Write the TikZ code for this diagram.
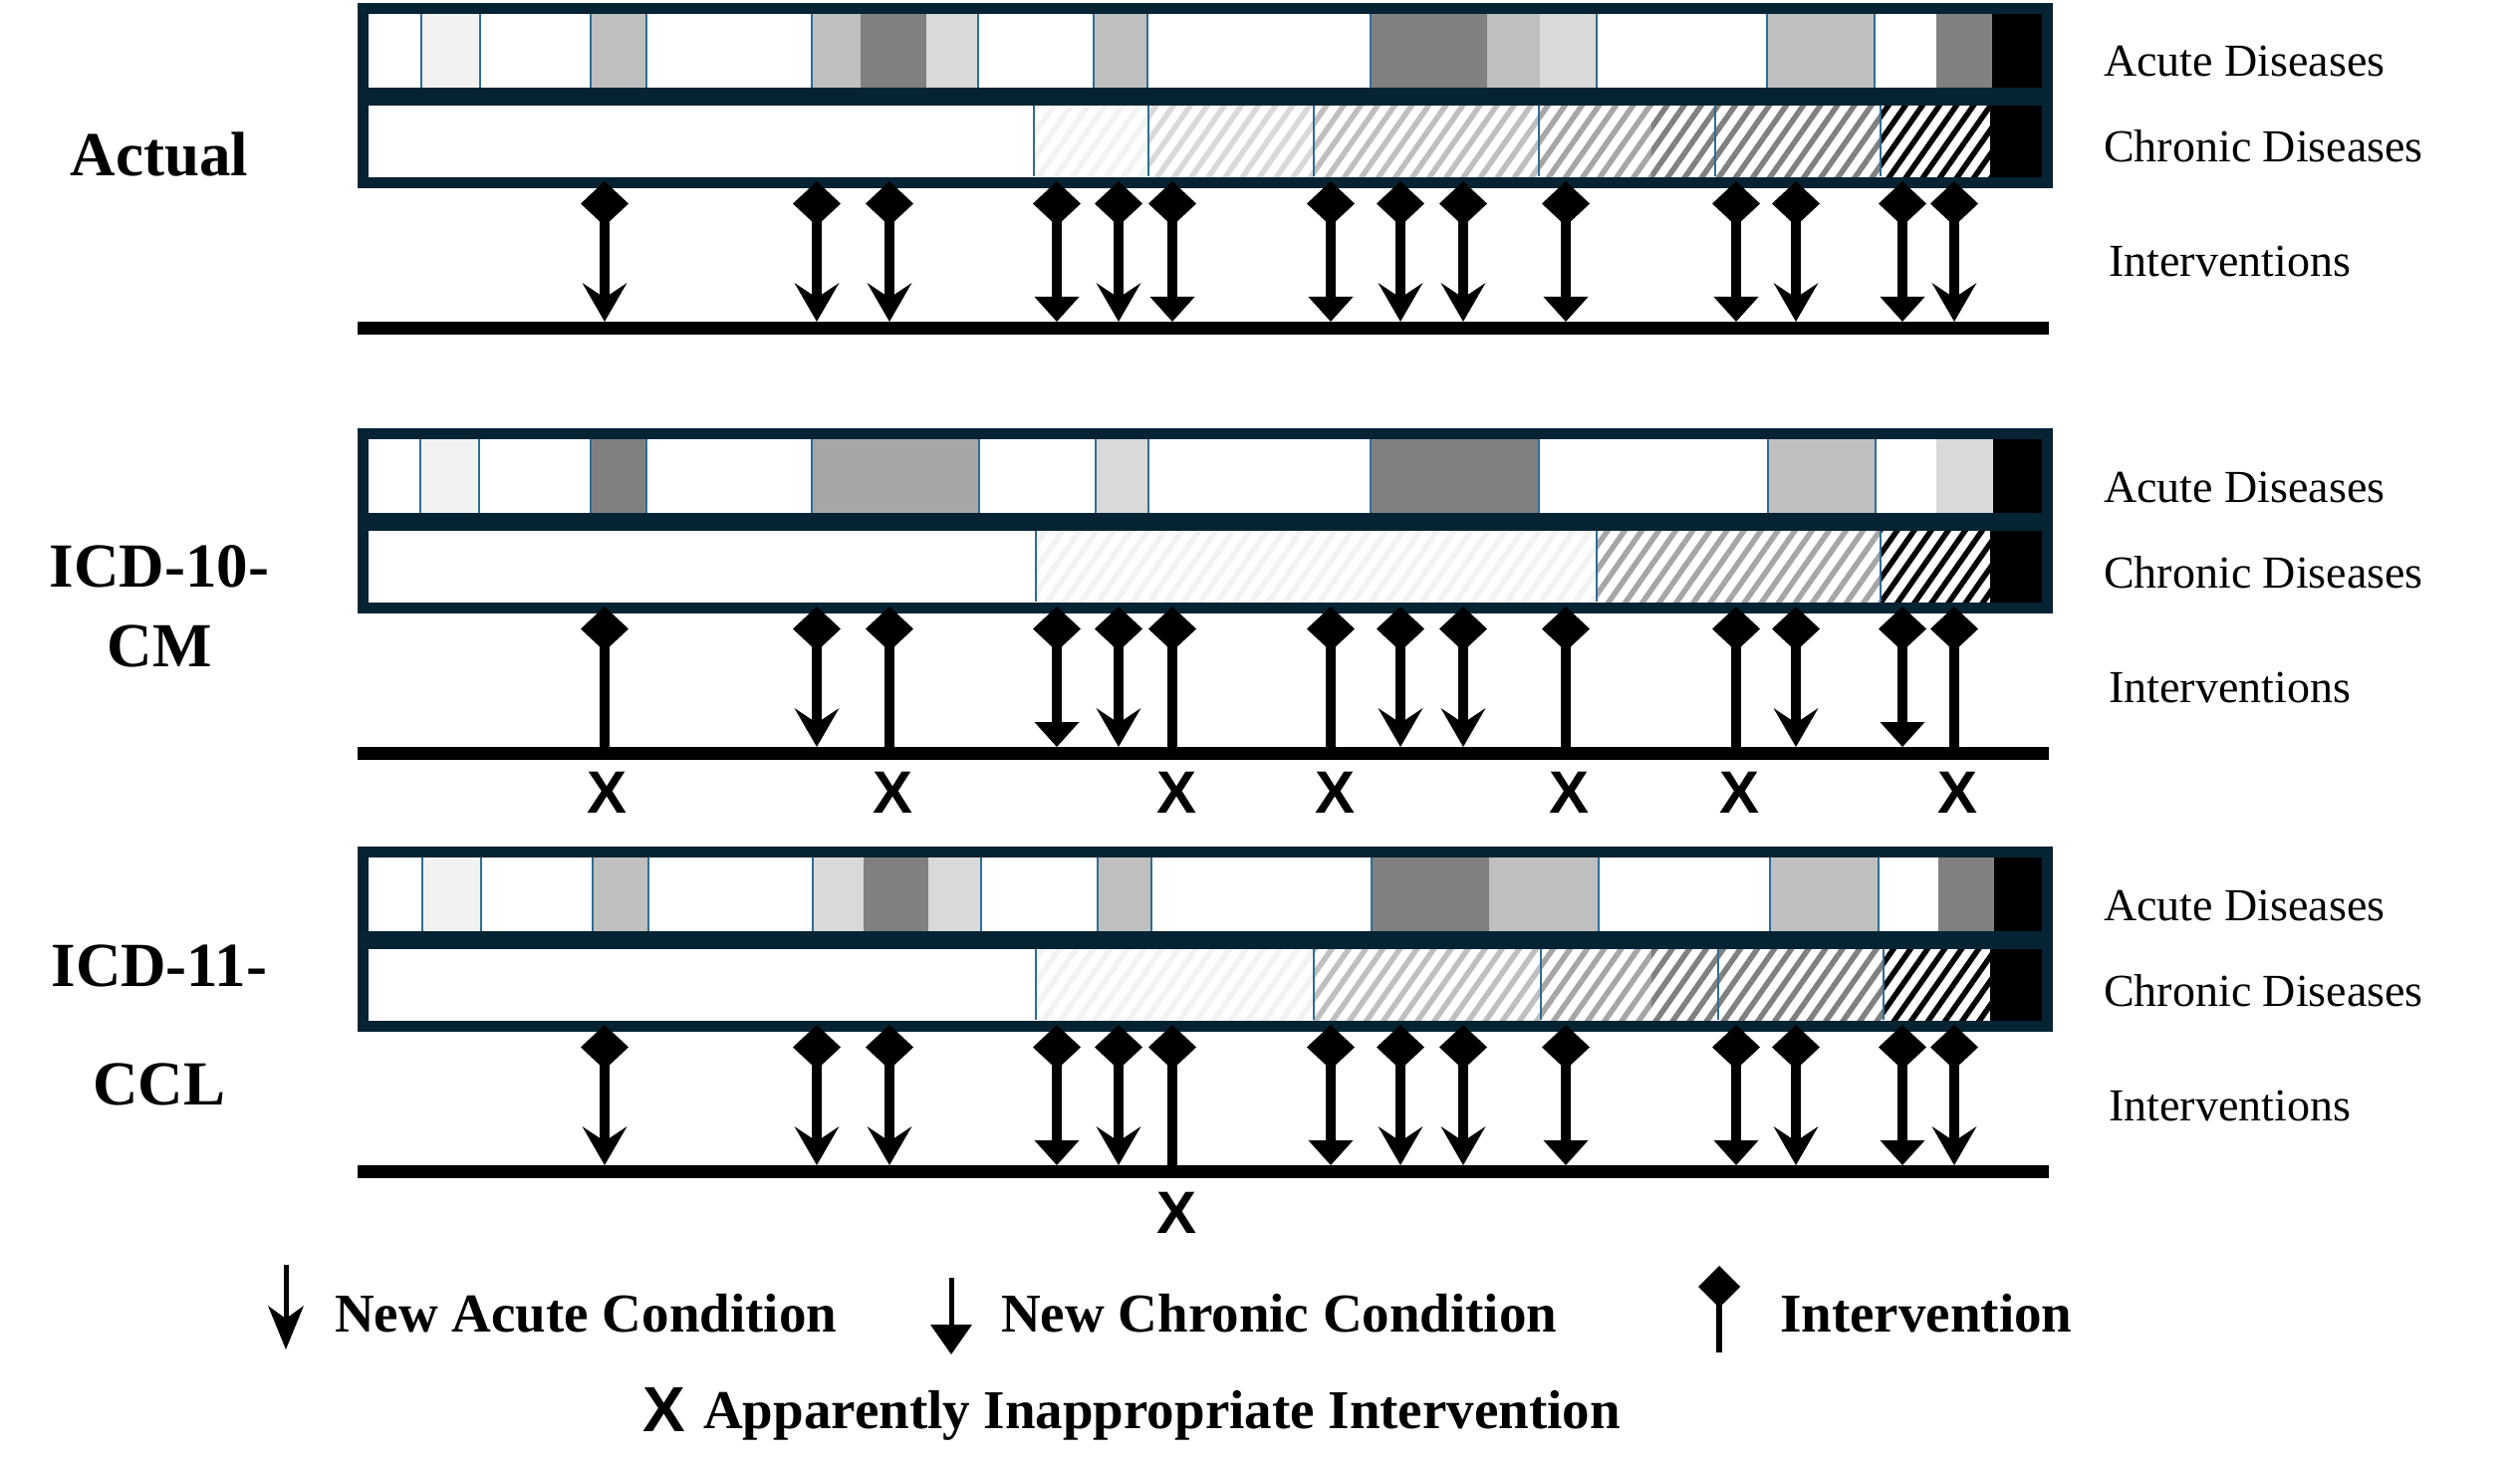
\documentclass[tikz,border=0pt]{standalone}
\usepackage{fontspec}
\setmainfont{Liberation Serif}
\newfontfamily\xmarkfont{Liberation Sans}
\usetikzlibrary{arrows.meta, shapes.geometric, patterns.meta}

\definecolor{framecol}{RGB}{6,35,51}
\definecolor{cellline}{RGB}{46,110,148}
\definecolor{gA}{HTML}{F2F2F2}
\definecolor{gB}{HTML}{D9D9D9}
\definecolor{gC}{HTML}{BFBFBF}
\definecolor{gD}{HTML}{A6A6A6}
\definecolor{gE}{HTML}{808080}

\begin{document}
\begin{tikzpicture}[
			x=1pt, y=-1pt,
			panelframe/.style={draw=framecol, line width=11pt},
			cellsep/.style={draw=cellline, line width=2pt},
			hatch/.style={pattern={Lines[angle=55,distance=14pt,line width=5.5pt]}, pattern color=#1},
			interv/.tip={Diamond[length=45pt,width=48pt,line width=0pt]},
			shaft/.style={line width=10pt},
			newacute/.style={shaft, {interv}-{Stealth[length=39pt,width=45pt,inset=15pt,line width=0pt]}},
			newchronic/.style={shaft, {interv}-{Triangle[length=25pt,width=45pt,line width=0pt]}},
			bareline/.style={shaft, {interv}-},
			timeline/.style={line width=13pt},
			rowlabel/.style={anchor=base west, inner sep=0pt, font=\fontsize{46}{55}\selectfont},
			panellabel/.style={align=center, inner sep=0pt, font=\bfseries\fontsize{63}{80}\selectfont},
			xmark/.style={inner sep=0pt, font=\xmarkfont\bfseries\fontsize{60}{60}\selectfont},
			legendtext/.style={anchor=base west, inner sep=0pt, font=\bfseries\fontsize{55}{66}\selectfont}
		]
		\fill[white] (0,0) rectangle (2530,1471);
		\useasboundingbox (0,0) rectangle (2530,1471);

		% Actual
		\begin{scope}
			\foreach \xa/\xb/\c in {423/482/gA, 593/649/gC, 815/864/gC, 864/930/gE, 930/982/gB, 1098/1152/gC,
				1376/1493/gE, 1493/1546/gC, 1546/1603/gB, 1774/1882/gC, 1944/2000/gE, 2000/2050/black}
				\fill[\c] (\xa,10) rectangle (\xb,91);
			\foreach \xa/\xb/\c in {1038/1153/gA, 1153/1319/gB, 1319/1545/gC, 1545/1658/gD, 1658/1722/gE,
				1722/1888/gE, 1888/1998/black}
				\fill[hatch=\c] (\xa,103) rectangle (\xb,180);
			\fill[black] (1998,103) rectangle (2050,180);
			\foreach \x in {423, 482, 593, 649, 815, 982, 1098, 1152, 1376, 1603, 1774, 1882}
				\draw[cellsep] (\x,13) -- (\x,88);
			\foreach \x in {1038, 1153, 1319, 1545, 1722, 1888}
				\draw[cellsep] (\x,106) -- (\x,177);
			\draw[panelframe] (364,8.5) rectangle (2055.5,93.5);
			\draw[panelframe] (364,100.5) rectangle (2055.5,183.5);

			\coordinate (aL) at (359,329.5);
			\coordinate (aR) at (2057,329.5);
			\coordinate (aT) at (359,323);
			\foreach \x/\k [count=\i] in {607/newacute, 820/newacute, 893/newacute, 1061/newchronic, 1123/newacute,
				1177/newchronic, 1336/newchronic, 1406/newacute, 1469/newacute, 1572/newchronic, 1743/newchronic,
				1803/newacute, 1910/newchronic, 1962/newacute} {
				\coordinate (a\i) at (\x,182);
				\draw[\k] (a\i) -- (a\i |- aT);
			}
			\draw[timeline] (aL) -- (aR);

			\node[rowlabel] (aacute) at (2112,77) {Acute Diseases};
			\node[rowlabel] (achronic) at (2112,163) {Chronic Diseases};
			\node[rowlabel] (aint) at (2117,278) {Interventions};
		\end{scope}

		% ICD-10-CM
		\begin{scope}[shift={(0,427)}]
			\foreach \xa/\xb/\c in {422/481/gA, 593/649/gE, 815/983/gD, 1100/1153/gB, 1376/1545/gE,
				1775/1883/gC, 1944/2001/gB, 2001/2050/black}
				\fill[\c] (\xa,10) rectangle (\xb,91);
			\foreach \xa/\xb/\c in {1040/1603/gA, 1603/1888/gD, 1888/1998/black}
				\fill[hatch=\c] (\xa,103) rectangle (\xb,180);
			\fill[black] (1998,103) rectangle (2050,180);
			\foreach \x in {422, 481, 593, 649, 815, 983, 1100, 1153, 1376, 1545, 1775, 1883}
				\draw[cellsep] (\x,13) -- (\x,88);
			\foreach \x in {1040, 1603, 1888}
				\draw[cellsep] (\x,106) -- (\x,177);
			\draw[panelframe] (364,8.5) rectangle (2055.5,93.5);
			\draw[panelframe] (364,100.5) rectangle (2055.5,183.5);

			\coordinate (bL) at (359,329.5);
			\coordinate (bR) at (2057,329.5);
			\coordinate (bT) at (359,323);
			\foreach \x/\k [count=\i] in {607/bareline, 820/newacute, 893/bareline, 1061/newchronic, 1123/newacute,
				1177/bareline, 1336/bareline, 1406/newacute, 1469/newacute, 1572/bareline, 1743/bareline,
				1803/newacute, 1910/newchronic, 1962/bareline} {
				\coordinate (b\i) at (\x,182);
				\draw[\k] (b\i) -- (b\i |- bT);
			}
			\draw[timeline] (bL) -- (bR);
			\foreach \x [count=\i] in {610, 896, 1181, 1340, 1575, 1746, 1965}
				\node[xmark] (bx\i) at (\x,369) {X};

			\node[rowlabel] (bacute) at (2112,77) {Acute Diseases};
			\node[rowlabel] (bchronic) at (2112,163) {Chronic Diseases};
			\node[rowlabel] (bint) at (2117,278) {Interventions};
		\end{scope}

		% ICD-11-CCL
		\begin{scope}[shift={(0,847)}]
			\foreach \xa/\xb/\c in {424/483/gA, 595/651/gC, 816/867/gB, 867/932/gE, 932/985/gB, 1102/1156/gC,
				1377/1495/gE, 1495/1605/gC, 1777/1886/gC, 1946/2002/gE, 2002/2050/black}
				\fill[\c] (\xa,10) rectangle (\xb,91);
			\foreach \xa/\xb/\c in {1040/1319/gA, 1319/1547/gC, 1547/1658/gD, 1658/1725/gE, 1725/1891/gE,
				1891/1998/black}
				\fill[hatch=\c] (\xa,103) rectangle (\xb,180);
			\fill[black] (1998,103) rectangle (2050,180);
			\foreach \x in {424, 483, 595, 651, 816, 985, 1102, 1156, 1377, 1605, 1777, 1886}
				\draw[cellsep] (\x,13) -- (\x,88);
			\foreach \x in {1040, 1319, 1547, 1725, 1891}
				\draw[cellsep] (\x,106) -- (\x,177);
			\draw[panelframe] (364,8.5) rectangle (2055.5,93.5);
			\draw[panelframe] (364,100.5) rectangle (2055.5,183.5);

			\coordinate (cL) at (359,329.5);
			\coordinate (cR) at (2057,329.5);
			\coordinate (cT) at (359,323);
			\foreach \x/\k [count=\i] in {607/newacute, 820/newacute, 893/newacute, 1061/newchronic, 1123/newacute,
				1177/bareline, 1336/newchronic, 1406/newacute, 1469/newacute, 1572/newchronic, 1743/newchronic,
				1803/newacute, 1910/newchronic, 1962/newacute} {
				\coordinate (c\i) at (\x,182);
				\draw[\k] (c\i) -- (c\i |- cT);
			}
			\draw[timeline] (cL) -- (cR);
			\node[xmark] (cx1) at (1181,371) {X};

			\node[rowlabel] (cacute) at (2112,77) {Acute Diseases};
			\node[rowlabel] (cchronic) at (2112,163) {Chronic Diseases};
			\node[rowlabel] (cint) at (2117,278) {Interventions};
		\end{scope}

		% panel names
		\node[panellabel] (actual) at (160,155) {Actual};
		\node[panellabel] (icdten) at (160,609) {ICD-10-\\CM};
		\node[panellabel, font=\bfseries\fontsize{63}{119}\selectfont] (icdeleven) at (160,1029.5) {ICD-11-\\CCL};

		% legend
		\coordinate (lgacuteT) at (287,1270);
		\coordinate (lgacuteB) at (287,1355);
		\draw[line width=5pt, -{Stealth[length=44pt,width=36pt,inset=13pt,line width=0pt]}] (lgacuteT) -- (lgacuteB);
		\node[legendtext] (lgacute) at (336,1337) {New Acute Condition};

		\coordinate (lgchronicT) at (955,1283);
		\coordinate (lgchronicB) at (955,1360);
		\draw[line width=5pt, -{Triangle[length=30pt,width=42pt,line width=0pt]}] (lgchronicT) -- (lgchronicB);
		\node[legendtext] (lgchronic) at (1005,1337) {New Chronic Condition};

		\coordinate (lgintT) at (1726,1271);
		\coordinate (lgintB) at (1726,1358);
		\draw[line width=6pt, {Diamond[length=42pt,width=42pt,line width=0pt]}-] (lgintT) -- (lgintB);
		\node[legendtext] (lginttext) at (1787,1337) {Intervention};

		\node[xmark, font=\xmarkfont\bfseries\fontsize{64}{64}\selectfont] (lgx) at (667,1415) {X};
		\node[legendtext] (lgxtext) at (706,1434) {Apparently Inappropriate Intervention};
	\end{tikzpicture}
\end{document}
